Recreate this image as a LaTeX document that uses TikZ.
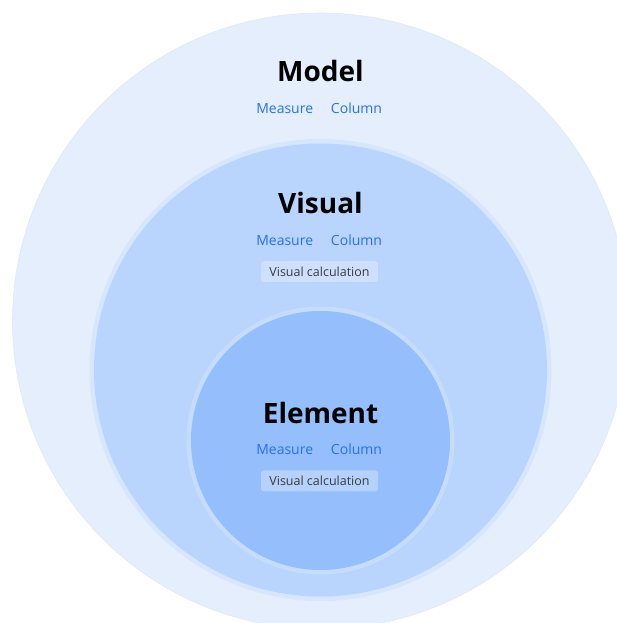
\documentclass[tikz,border=0pt]{standalone}
\usepackage{fontspec}
\setmainfont{Open Sans}
\usetikzlibrary{positioning}

% fill colours of the three scopes
\definecolor{modelfill}{HTML}{E4EEFD}
\definecolor{visualring}{HTML}{D6E6FD}
\definecolor{visualfill}{HTML}{B9D4FD}
\definecolor{elementring}{HTML}{C6DCFD}
\definecolor{elementfill}{HTML}{95BEFD}
\definecolor{kindblue}{HTML}{2670F5}
\definecolor{calcgray}{HTML}{3C3C3C}

\begin{document}
\begin{tikzpicture}[x=1pt, y=-1pt,
  scopetitle/.style={font=\bfseries\fontsize{28}{30}\selectfont, text=black, inner sep=0, anchor=base},
  kind/.style={font=\fontsize{14}{16}\selectfont, text=kindblue, inner sep=0, anchor=base},
  calcbox/.style={fill=white, fill opacity=0.3, text opacity=1, text=calcgray,
    rounded corners=3pt, inner sep=0, minimum width=117pt, minimum height=21pt,
    font=\fontsize{12.5}{14}\selectfont}]

\useasboundingbox (0,0) rectangle (617,623);
\clip (0,0) rectangle (617,623);

\def\cx{320.5}  % common centre line

% Model scope
\draw[modelfill!80!gray!60, line width=0.6pt, fill=modelfill] (\cx,321) circle (308);

% Visual scope
\fill[visualring] (\cx,370) circle (231);
\fill[visualfill] (\cx,370) circle (226.5);

% Element scope
\fill[elementring] (\cx,440.5) circle (134);
\fill[elementfill] (\cx,440.5) circle (129.5);

% labels of the outer scope
\node[scopetitle] (model) at (\cx,81.7) {Model};
\node[kind] (modelmeasure) at (284.7,113.3) {Measure};
\node[kind] (modelcolumn) at (356.5,113.3) {Column};

% labels of the middle scope
\node[scopetitle] (visual) at (\cx,213.3) {Visual};
\node[kind] (visualmeasure) at (284.7,245) {Measure};
\node[kind] (visualcolumn) at (356.5,245) {Column};
\node[calcbox] (visualcalc) at (319.5,271.7) {Visual calculation};

% labels of the inner scope
\node[scopetitle] (element) at (\cx,423.3) {Element};
\node[kind] (elementmeasure) at (284.7,454.3) {Measure};
\node[kind] (elementcolumn) at (356.5,454.3) {Column};
\node[calcbox] (elementcalc) at (319.5,480.9) {Visual calculation};

\end{tikzpicture}
\end{document}
